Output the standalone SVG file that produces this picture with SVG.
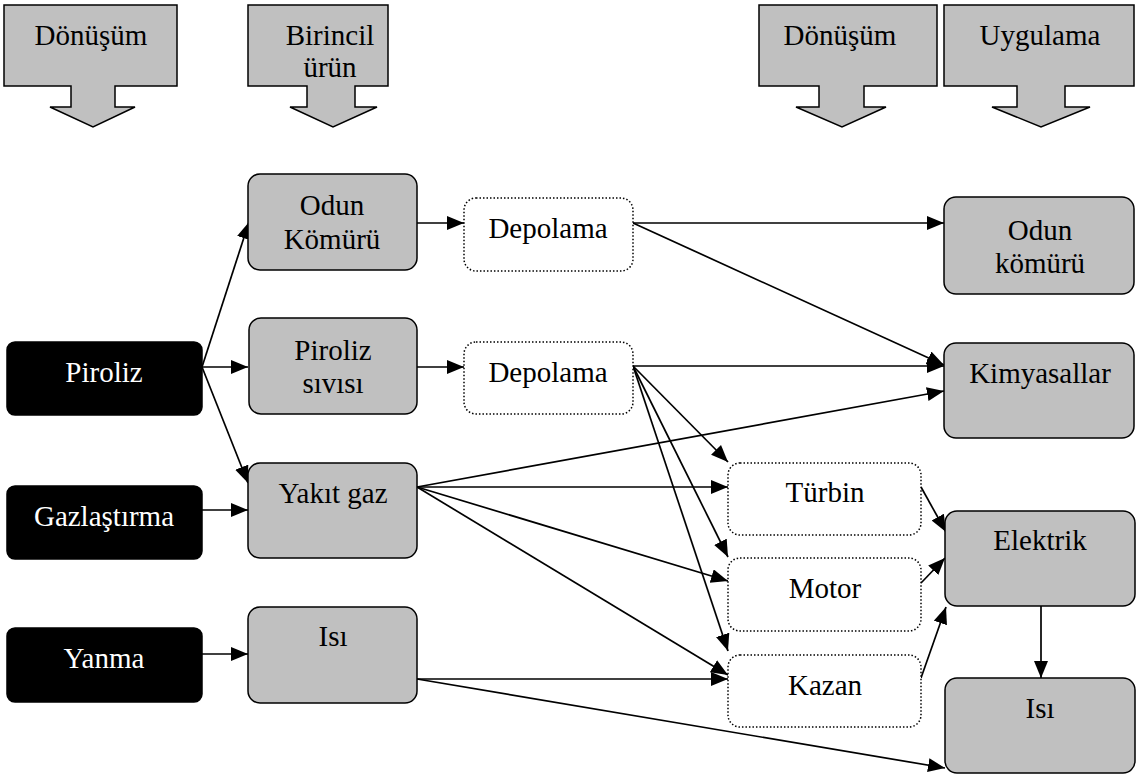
<svg xmlns="http://www.w3.org/2000/svg" width="1137" height="778" viewBox="0 0 1137 778" font-family="'Liberation Serif', 'Times New Roman', 'DejaVu Serif', serif">
<style>
text{font-family:'Liberation Serif','Times New Roman','DejaVu Serif',serif;font-size:29px;text-anchor:middle;fill:#000}
.w{fill:#fff}
.hdr{fill:#c0c0c0;stroke:#000;stroke-width:1.5}
.blk{fill:#000;stroke:#000;stroke-width:1.5}
.gry{fill:#c0c0c0;stroke:#000;stroke-width:1.5}
.dot{fill:#fff;stroke:#000;stroke-width:1.5;stroke-dasharray:1.5 2}
.c line{stroke:#000;stroke-width:1.7;marker-end:url(#ah)}
</style>
<defs>
<marker id="ah" markerUnits="userSpaceOnUse" markerWidth="20" markerHeight="16" refX="17" refY="7" orient="auto">
<path d="M0,0 L17,7 L0,14 z" fill="#000"/>
</marker>
</defs>
<g id="h1"><polygon class="hdr" points="4,5 177,5 177,86 115,86 115,107 135,107 93,127 50,107 71,107 71,86 4,86"/><text x="91" y="45">Dönüşüm</text></g>
<g id="h2"><polygon class="hdr" points="248,5 388,5 388,86 355,86 355,107 377,107 333,127 290,107 307,107 307,86 248,86"/><text x="330" y="45">Birincil</text><text x="330" y="77">ürün</text></g>
<g id="h3"><polygon class="hdr" points="759,5 937,5 937,86 864,86 864,107 886,107 842,127 796,107 819,107 819,86 759,86"/><text x="840" y="45">Dönüşüm</text></g>
<g id="h4"><polygon class="hdr" points="944,5 1134,5 1134,86 1065,86 1065,107 1090,107 1041,127 992,107 1017,107 1017,86 944,86"/><text x="1040" y="45">Uygulama</text></g>

<g class="c" id="connectors">
<line x1="202" y1="367" x2="249" y2="222"/>
<line x1="202" y1="367" x2="248" y2="367"/>
<line x1="202" y1="367" x2="248" y2="483"/>
<line x1="202" y1="510" x2="248" y2="510"/>
<line x1="202" y1="654" x2="248" y2="654"/>
<line x1="417" y1="223" x2="464" y2="223"/>
<line x1="417" y1="367" x2="464" y2="367"/>
<line x1="633" y1="223" x2="944" y2="223"/>
<line x1="633" y1="223" x2="944" y2="365"/>
<line x1="633" y1="366" x2="944" y2="366"/>
<line x1="633" y1="366" x2="728" y2="462"/>
<line x1="633" y1="366" x2="728" y2="557"/>
<line x1="633" y1="366" x2="728" y2="651"/>
<line x1="417" y1="487" x2="944" y2="391"/>
<line x1="417" y1="487" x2="728" y2="487"/>
<line x1="417" y1="487" x2="728" y2="581"/>
<line x1="417" y1="487" x2="728" y2="675"/>
<line x1="417" y1="679" x2="728" y2="679"/>
<line x1="417" y1="679" x2="945" y2="768"/>
<line x1="921" y1="487" x2="946" y2="532"/>
<line x1="921" y1="583" x2="945" y2="558"/>
<line x1="921" y1="678" x2="946" y2="607"/>
<line x1="1041" y1="606" x2="1041" y2="678"/>
</g>

<g id="piroliz"><rect class="blk" x="7" y="342" width="195" height="73" rx="8"/><text class="w" x="104" y="382">Piroliz</text></g>
<g id="gazlastirma"><rect class="blk" x="7" y="486" width="195" height="73" rx="8"/><text class="w" x="104" y="526">Gazlaştırma</text></g>
<g id="yanma"><rect class="blk" x="7" y="628" width="195" height="74" rx="8"/><text class="w" x="104" y="668">Yanma</text></g>

<g id="odunkomuru1"><rect class="gry" x="248" y="174" width="169" height="96" rx="12"/><text x="332" y="215">Odun</text><text x="332" y="249">Kömürü</text></g>
<g id="pirolizsivisi"><rect class="gry" x="249" y="318" width="168" height="96" rx="12"/><text x="333" y="360">Piroliz</text><text x="333" y="393">sıvısı</text></g>
<g id="yakitgaz"><rect class="gry" x="248" y="463" width="169" height="95" rx="12"/><text x="333" y="503">Yakıt gaz</text></g>
<g id="isi1"><rect class="gry" x="248" y="607" width="169" height="96" rx="12"/><text x="333" y="646">Isı</text></g>

<g id="depolama1"><rect class="dot" x="464" y="198" width="169" height="73" rx="12"/><text x="548" y="238">Depolama</text></g>
<g id="depolama2"><rect class="dot" x="464" y="342" width="169" height="72" rx="12"/><text x="548" y="382">Depolama</text></g>

<g id="turbin"><rect class="dot" x="728" y="463" width="193" height="72" rx="12"/><text x="825" y="502">Türbin</text></g>
<g id="motor"><rect class="dot" x="728" y="558" width="193" height="73" rx="12"/><text x="825" y="598">Motor</text></g>
<g id="kazan"><rect class="dot" x="728" y="655" width="193" height="72" rx="12"/><text x="825" y="695">Kazan</text></g>

<g id="odunkomuru2"><rect class="gry" x="944" y="197" width="190" height="97" rx="12"/><text x="1040" y="240">Odun</text><text x="1040" y="273">kömürü</text></g>
<g id="kimyasallar"><rect class="gry" x="944" y="343" width="190" height="95" rx="12"/><text x="1040" y="383">Kimyasallar</text></g>
<g id="elektrik"><rect class="gry" x="945" y="511" width="190" height="95" rx="12"/><text x="1040" y="550">Elektrik</text></g>
<g id="isi2"><rect class="gry" x="945" y="678" width="190" height="95" rx="12"/><text x="1040" y="718">Isı</text></g>
</svg>
